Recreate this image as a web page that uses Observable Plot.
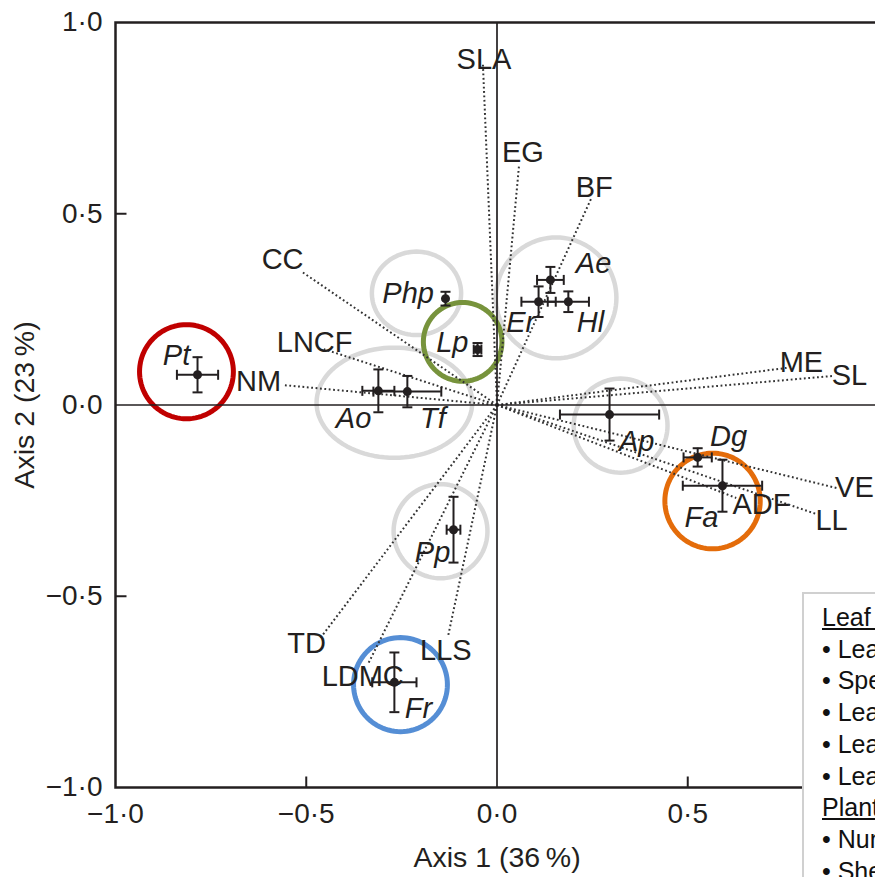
<!DOCTYPE html>
<html>
<head>
<meta charset="utf-8">
<script src="https://cdn.jsdelivr.net/npm/d3@7"></script>
<script src="https://cdn.jsdelivr.net/npm/@observablehq/plot@0.6"></script>
<style>
  html, body { margin: 0; padding: 0; background: #fff; width: 875px; height: 877px; overflow: hidden; }
  #wrap { position: relative; width: 875px; height: 877px; overflow: hidden; }
  #chart { position: absolute; left: 0; top: 0; width: 900px; height: 877px; }
  #chart svg { max-width: none !important; width: 900px !important; height: 877px !important; display: block; }
  #legend {
    position: absolute; left: 802px; top: 592px; width: 300px; height: 400px;
    box-sizing: border-box; border: 2px solid #d0d0d0; background: #fff;
    padding: 8px 0 0 18px; font-family: "Liberation Sans", Arial, sans-serif;
    font-size: 25px; line-height: 31.7px; color: #111; white-space: nowrap;
  }
  #legend .h { text-decoration: underline; }
</style>
</head>
<body>
<div id="wrap"><div id="chart"></div><div id="legend"></div></div>
<script>
// ---- Species (group means ± SE) ----
const species      = ["Pt", "Php", "Lp", "Ae", "Er", "Hl", "Ao", "Tf", "Pp", "Fr", "Ap", "Dg", "Fa"];
const speciesX     = [-0.785, -0.135, -0.051, 0.140, 0.109, 0.187, -0.311, -0.235, -0.114, -0.269, 0.295, 0.526, 0.591];
const speciesY     = [0.079, 0.278, 0.145, 0.327, 0.270, 0.270, 0.037, 0.035, -0.326, -0.725, -0.025, -0.137, -0.211];
const speciesXErr  = [0.054, 0, 0.010, 0.035, 0.045, 0.054, 0.042, 0.089, 0.018, 0.058, 0.130, 0.037, 0.104];
const speciesYErr  = [0.046, 0.018, 0.017, 0.034, 0.040, 0.027, 0.056, 0.041, 0.086, 0.078, 0.068, 0.024, 0.068];
const speciesLabelX = [-0.840, -0.233, -0.117, 0.253, 0.062, 0.245, -0.376, -0.168, -0.169, -0.206, 0.366, 0.607, 0.536];
const speciesLabelY = [0.128, 0.291, 0.163, 0.370, 0.214, 0.214, -0.037, -0.037, -0.386, -0.795, -0.095, -0.084, -0.294];

// ---- Trait vectors ----
const traits      = ["SLA", "EG", "BF", "CC", "LNCF", "NM", "ME", "SL", "VE", "LL", "ADF", "TD", "LDMC", "LLS"];
const traitX      = [-0.037, 0.058, 0.247, -0.514, -0.454, -0.559, 0.759, 0.882, 0.890, 0.837, 0.627, -0.462, -0.339, -0.129];
const traitY      = [0.893, 0.629, 0.540, 0.350, 0.146, 0.052, 0.097, 0.076, -0.217, -0.285, -0.243, -0.608, -0.679, -0.608];
const traitLabelX = [-0.034, 0.068, 0.255, -0.562, -0.478, -0.625, 0.798, 0.924, 0.937, 0.877, 0.693, -0.499, -0.352, -0.134];
const traitLabelY = [0.903, 0.660, 0.569, 0.381, 0.162, 0.060, 0.110, 0.076, -0.217, -0.303, -0.261, -0.624, -0.710, -0.642];

// ---- Grouping circles ----
const groupNames  = ["Pt", "Php", "Lp", "Ae-Er-Hl", "Ao-Tf", "Pp", "Fr", "Ap", "Fa"];
const groupX      = [-0.814, -0.211, -0.090, 0.155, -0.269, -0.148, -0.253, 0.324, 0.565];
const groupY      = [0.087, 0.292, 0.165, 0.280, 0.006, -0.330, -0.731, -0.054, -0.251];
const groupRX     = [0.123, 0.117, 0.103, 0.158, 0.204, 0.123, 0.123, 0.123, 0.125];
const groupRY     = [0.123, 0.109, 0.103, 0.158, 0.144, 0.123, 0.123, 0.123, 0.125];
const groupColor  = ["#c00000", "#d9d9d9", "#77933c", "#d9d9d9", "#d9d9d9", "#d9d9d9", "#558ed5", "#d9d9d9", "#e46c0a"];

// ---- Axes ----
const xTicks = [-1, -0.5, 0, 0.5];
const yTicks = [-1, -0.5, 0, 0.5, 1];
const innerTicks = [-0.5, 0.5];
const xTitle = "Axis 1 (36\u2009%)";
const yTitle = "Axis 2 (23\u2009%)";

// ---- Legend text ----
const legendLeafHead = "Leaf traits";
const legendLeaf = ["Leaf dry matter content (LDMC)", "Specific leaf area (SLA)", "Leaf lifespan (LLS)", "Leaf tissue density (TD)", "Leaf nitrogen content (LNCF)"];
const legendPlantHead = "Plant traits";
const legendPlant = ["Number of leaves per tiller", "Sheath length (SL)"];

// ---------------------------------------------------------------
const ink = "#231f20";
const fmt = d => (d < 0 ? "\u2212" : "") + Math.abs(d).toFixed(1).replace(".", "\u00b7");

const sp = species.map((s, i) => ({name: s, x: speciesX[i], y: speciesY[i], xe: speciesXErr[i], ye: speciesYErr[i], lx: speciesLabelX[i], ly: speciesLabelY[i]}));
const tr = traits.map((t, i) => ({name: t, x: traitX[i], y: traitY[i], lx: traitLabelX[i], ly: traitLabelY[i]}));

const ellipsePts = [];
groupNames.forEach((g, i) => {
  for (let k = 0; k < 96; k++) {
    const a = 2 * Math.PI * k / 96;
    ellipsePts.push({g, color: groupColor[i], gray: groupColor[i] === "#d9d9d9",
      x: groupX[i] + groupRX[i] * Math.cos(a), y: groupY[i] + groupRY[i] * Math.sin(a)});
  }
});

const r0 = s => Math.sqrt(s / Math.PI);
const hline = {draw(c, s) { const r = r0(s); c.moveTo(-r, 0); c.lineTo(r, 0); }};
const vline = {draw(c, s) { const r = r0(s); c.moveTo(0, -r); c.lineTo(0, r); }};
const tickRight = {draw(c, s) { const r = r0(s); c.moveTo(0, 0); c.lineTo(r, 0); }};
const tickUp = {draw(c, s) { const r = r0(s); c.moveTo(0, 0); c.lineTo(0, -r); }};

const withX = sp.filter(d => d.xe > 0);

const chart = Plot.plot({
  width: 900, height: 877,
  marginLeft: 115, marginRight: 22, marginTop: 22, marginBottom: 90,
  x: {domain: [-1, 1]},
  y: {domain: [-1, 1]},
  color: {type: "identity"},
  style: {fontFamily: "'Liberation Sans', Arial, Helvetica, sans-serif", fontSize: "28px", color: ink, background: "white", overflow: "visible", maxWidth: "none"},
  marks: [
    // grouping circles
    Plot.line(ellipsePts.filter(d => d.gray), {x: "x", y: "y", z: "g", stroke: "color", strokeWidth: 4.5, curve: "linear-closed"}),
    Plot.line(ellipsePts.filter(d => !d.gray), {x: "x", y: "y", z: "g", stroke: "color", strokeWidth: 5, curve: "linear-closed"}),
    // trait vectors
    Plot.link(tr, {x1: 0, y1: 0, x2: "x", y2: "y", stroke: "#333", strokeWidth: 2, strokeDasharray: "1.8 2.6"}),
    // zero axes
    Plot.ruleX([0], {stroke: ink, strokeWidth: 1.7}),
    Plot.ruleY([0], {stroke: ink, strokeWidth: 1.7}),
    Plot.frame({stroke: ink, strokeWidth: 2.5}),
    // inner ticks
    Plot.dot(innerTicks, {x: -1, y: d => d, symbol: tickRight, r: 11, stroke: ink, strokeWidth: 2, fill: "none"}),
    Plot.dot(innerTicks, {x: d => d, y: -1, symbol: tickUp, r: 11, stroke: ink, strokeWidth: 2, fill: "none"}),
    Plot.axisX(xTicks, {tickSize: 0, tickPadding: 16, tickFormat: fmt, label: null, fill: ink, fontSize: 28}),
    Plot.axisY(yTicks, {tickSize: 0, tickPadding: 13, tickFormat: fmt, label: null, fill: ink, fontSize: 28}),
    Plot.text([xTitle], {x: 0, y: -1, dy: 70, text: d => d, fill: ink, fontSize: 28.5}),
    Plot.text([yTitle], {x: -1, y: 0, dx: -91, text: d => d, rotate: -90, fill: ink, fontSize: 28.5}),
    // error bars
    Plot.ruleX(sp, {x: "x", y1: d => d.y - d.ye, y2: d => d.y + d.ye, stroke: ink, strokeWidth: 2}),
    Plot.ruleY(withX, {y: "y", x1: d => d.x - d.xe, x2: d => d.x + d.xe, stroke: ink, strokeWidth: 2}),
    Plot.dot(sp, {x: "x", y: d => d.y - d.ye, symbol: hline, r: 5, stroke: ink, strokeWidth: 2, fill: "none"}),
    Plot.dot(sp, {x: "x", y: d => d.y + d.ye, symbol: hline, r: 5, stroke: ink, strokeWidth: 2, fill: "none"}),
    Plot.dot(withX, {x: d => d.x - d.xe, y: "y", symbol: vline, r: 5, stroke: ink, strokeWidth: 2, fill: "none"}),
    Plot.dot(withX, {x: d => d.x + d.xe, y: "y", symbol: vline, r: 5, stroke: ink, strokeWidth: 2, fill: "none"}),
    Plot.dot(sp, {x: "x", y: "y", r: 4.5, fill: ink, stroke: "none"}),
    // labels
    Plot.text(tr, {x: "lx", y: "ly", text: "name", fill: ink, fontSize: 29}),
    Plot.text(sp, {x: "lx", y: "ly", text: "name", fill: ink, fontSize: 29, fontStyle: "italic"})
  ]
});
document.getElementById("chart").appendChild(chart);

// legend
const lg = document.getElementById("legend");
const addLine = (t, cls) => { const d = document.createElement("div"); d.textContent = t; if (cls) d.className = cls; lg.appendChild(d); };
addLine(legendLeafHead, "h");
legendLeaf.forEach(t => addLine("\u2022 " + t));
addLine(legendPlantHead, "h");
legendPlant.forEach(t => addLine("\u2022 " + t));
</script>
</body>
</html>
